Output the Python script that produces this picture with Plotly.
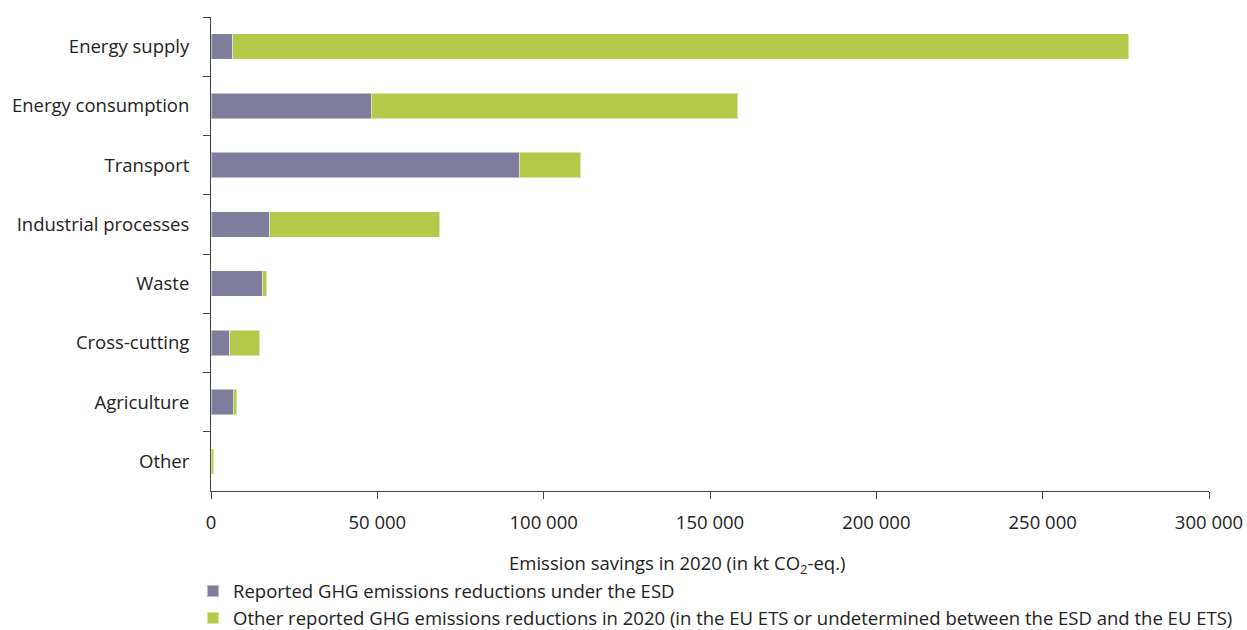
import plotly.graph_objects as go

categories = ["Energy supply", "Energy consumption", "Transport", "Industrial processes",
              "Waste", "Cross-cutting", "Agriculture", "Other"]
esd_values = [6600, 48100, 92600, 17700, 15600, 5700, 6700, 0]
other_values = [269300, 110300, 18600, 51100, 1100, 8900, 1100, 900]
x_tick_vals = [0, 50000, 100000, 150000, 200000, 250000, 300000]
series_names = ["Reported GHG emissions reductions under the ESD",
                "Other reported GHG emissions reductions in 2020 (in the EU ETS or undetermined between the ESD and the EU ETS)"]

FONT = "Open Sans"
FS = 18.5
fig = go.Figure()
fig.add_trace(go.Bar(y=categories, x=esd_values, orientation="h", name=series_names[0],
                     marker=dict(color="#7f7d9c", line=dict(color="rgba(255,255,255,0.5)", width=1)),
                     width=0.43))
fig.add_trace(go.Bar(y=categories, x=other_values, orientation="h", name=series_names[1],
                     marker=dict(color="#b4c94a", line=dict(color="rgba(255,255,255,0.5)", width=1)),
                     width=0.43))

fig.update_layout(
    barmode="stack",
    width=1247, height=630,
    margin=dict(l=211, r=38, t=17, b=139, autoexpand=False),
    plot_bgcolor="white", paper_bgcolor="white",
    font=dict(family=FONT, size=FS, color="#222"),
    separators=". ",
    showlegend=True,
    legend=dict(orientation="v", x=-0.018, xanchor="left", y=-0.172, yanchor="top",
                traceorder="normal", font=dict(size=FS, color="#222"), tracegroupgap=0,
                itemsizing="constant"),
    xaxis=dict(range=[0, 300000], tickvals=x_tick_vals, tickformat=",d",
               showgrid=False, zeroline=False, showline=True, linecolor="#444", linewidth=1,
               ticks="outside", ticklen=7, tickcolor="#444", ticklabelstandoff=8,
               tickfont=dict(size=FS, color="#222")),
    yaxis=dict(categoryorder="array", categoryarray=categories, autorange="reversed",
               showgrid=False, showline=True, linecolor="#444", linewidth=1,
               ticks="outside", ticklen=7, tickcolor="#444", tickson="boundaries",
               ticklabelstandoff=17, tickfont=dict(size=FS, color="#222")),
    annotations=[dict(text="Emission savings in 2020 (in kt CO<sub>2</sub>-eq.)",
                      x=0.467, xref="paper", y=-0.153, yref="paper", yanchor="middle",
                      showarrow=False, font=dict(size=FS, color="#222"))],
)
fig.write_html("out.html", config={"displayModeBar": False},
               post_script="document.body.style.margin='0';document.body.style.overflow='hidden';")
